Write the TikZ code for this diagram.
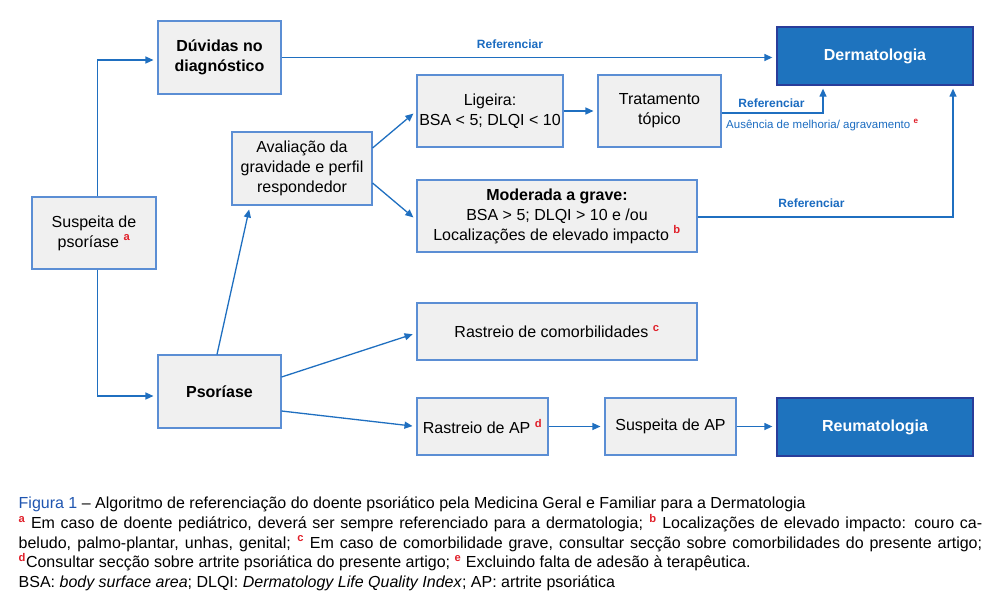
\documentclass[tikz,border=0pt]{standalone}
\usepackage{fontspec}
\setmainfont{Liberation Sans}
\usetikzlibrary{arrows.meta,calc}
\definecolor{boxfill}{HTML}{F0F0F0}
\definecolor{boxline}{HTML}{5B8ED4}
\definecolor{arrowc}{HTML}{1F6FC0}
\definecolor{dermfill}{HTML}{1E73BE}
\definecolor{dermline}{HTML}{2A3D9A}
\definecolor{labc}{HTML}{1A6BC0}
\definecolor{figc}{HTML}{1F55B0}
\definecolor{supred}{HTML}{E0202A}
\newcommand{\rsup}[1]{\textsuperscript{\color{supred}\bfseries #1}}
\tikzset{
  box/.style={draw=boxline, fill=boxfill, line width=1.1pt, inner sep=0pt, align=center,
    font=\fontsize{16}{20}\selectfont},
  spec/.style={draw=dermline, fill=dermfill, line width=1.3pt, inner sep=0pt, align=center,
    text=white, font=\fontsize{16}{20}\selectfont\bfseries},
  conn/.style={draw=arrowc, line width=1.3pt, -{Triangle[length=8pt,width=7pt]}, shorten >=4pt},
  lab/.style={text=labc, inner sep=0pt, font=\fontsize{12}{14}\selectfont\bfseries},
}
\begin{document}
\begin{tikzpicture}[x=1pt,y=-1pt]
\useasboundingbox (0,0) rectangle (1000,608);
% boxes
\node[box, minimum width=123pt, minimum height=73pt] (dv) at (219.5,57.5) {\bfseries Dúvidas no\\\bfseries diagnóstico};
\node[box, minimum width=124pt, minimum height=72pt] (sus) at (94,233) {Suspeita de\\psoríase \rsup{a}};
\node[box, minimum width=140pt, minimum height=73pt] (ava) at (302,168.5) {Avaliação da\\gravidade e perfil\\respondedor};
\node[box, minimum width=146pt, minimum height=72pt] (lig) at (490,111) {Ligeira:\\BSA < 5; DLQI < 10};
\node[box, minimum width=123pt, minimum height=72pt] (trat) at (659.5,111) {Tratamento\\tópico};
\node[spec, minimum width=196pt, minimum height=58pt] (derm) at (875,56) {Dermatologia};
\node[box, minimum width=280pt, minimum height=72pt] (mod) at (557,216) {\bfseries Moderada a grave:\\BSA > 5; DLQI > 10 e /ou\\Localizações de elevado impacto \rsup{b}};
\node[box, minimum width=123pt, minimum height=73pt] (pso) at (219.5,391.5) {\bfseries Psoríase};
\node[box, minimum width=280pt, minimum height=57pt] (rc) at (557,331.5) {Rastreio de comorbilidades \rsup{c}};
\node[box, minimum width=131pt, minimum height=57pt] (rap) at (482.5,426.5) {Rastreio de AP \rsup{d}};
\node[box, minimum width=131pt, minimum height=57pt] (sap) at (670.5,426.5) {Suspeita de AP};
\node[spec, minimum width=196pt, minimum height=58pt] (reu) at (875,427) {Reumatologia};
% connectors
\draw[conn] ([xshift=3.7pt]sus.north) |- ([yshift=-2.5pt]dv.west);
\draw[conn] ([xshift=3.7pt]sus.south) |- ([yshift=-4.5pt]pso.west);
\draw[conn] (dv.east) -- (dv.east -| derm.west);
\draw[conn] ([xshift=-2.5pt]pso.north) -- ([xshift=-52pt]ava.south);
\draw[conn] ([yshift=20.5pt]ava.east) -- (lig.west);
\draw[conn] ([yshift=-14.5pt]ava.east) -- ([yshift=-4pt]mod.west);
\draw[conn] (lig.east) -- (trat.west);
\draw[conn, shorten >=3pt] ([yshift=-2pt]trat.east) -| ([xshift=-52pt]derm.south);
\draw[conn, shorten >=3pt] ([yshift=-1pt]mod.east) -| ([xshift=78pt]derm.south);
\draw[conn] ([yshift=14.5pt]pso.east) -- ([yshift=-1.5pt]rc.west);
\draw[conn] ([yshift=-19.5pt]pso.east) -- (rap.west);
\draw[conn] (rap.east) -- (sap.west);
\draw[conn] (sap.east) -- (sap.east -| reu.west);
% labels
\node[lab] (l1) at (510,44) {Referenciar};
\node[lab] (l2) at (771.5,103) {Referenciar};
\node[lab, anchor=west, font=\fontsize{11.5}{14}\selectfont] (l3) at (726,125) {Ausência de melhoria/ agravamento \rsup{e}};
\node[lab] (l4) at (811.5,203) {Referenciar};
% caption
\node[anchor=north west, inner sep=0pt, text width=963.5pt, align=justify,
  font=\fontsize{16}{19.8}\selectfont] (cap) at (18.5,496.5) {%
{\color{figc}Figura 1} – Algoritmo de referenciação do doente psoriático pela Medicina Geral e Familiar para a Dermatologia\\
\rsup{a} Em caso de doente pediátrico, deverá ser sempre referenciado para a dermatologia; \rsup{b} Localizações de elevado impacto: couro ca-\linebreak
beludo, palmo-plantar, unhas, genital; \rsup{c} Em caso de comorbilidade grave, consultar secção sobre comorbilidades do presente artigo;\linebreak
\rsup{d}Consultar secção sobre artrite psoriática do presente artigo; \rsup{e} Excluindo falta de adesão à terapêutica.\\
BSA: \textit{body surface area}; DLQI: \textit{Dermatology Life Quality Index}; AP: artrite psoriática};
\end{tikzpicture}
\end{document}
